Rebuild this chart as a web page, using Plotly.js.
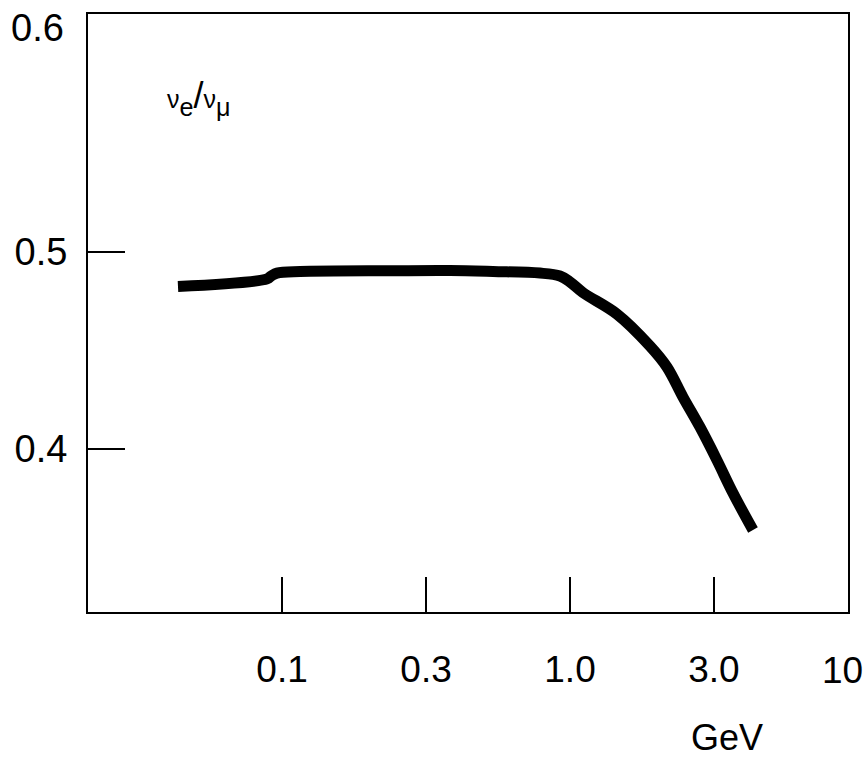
<!DOCTYPE html>
<html>
<head>
<meta charset="utf-8">
<script src="https://cdn.plot.ly/plotly-3.0.1.min.js"></script>
<style>html,body{margin:0;padding:0;background:#fff;}#chart{width:867px;height:757px;}</style>
</head>
<body>
<div id="chart"></div>
<script>
// Energy (GeV) and nu_e / nu_mu flux ratio
const energyGeV = [0.0435, 0.0887, 0.0920, 0.0960, 0.1155, 0.2427, 0.383, 0.540, 0.787, 0.923, 1.0, 1.109, 1.456, 1.895, 2.172, 2.468, 2.826, 3.238, 3.681, 4.32];
const ratio     = [0.4825, 0.4864, 0.4880, 0.4893, 0.4901, 0.4905, 0.4906, 0.4901, 0.4893, 0.4878, 0.4848, 0.4794, 0.4685, 0.4523, 0.4416, 0.4264, 0.4112, 0.3944, 0.3777, 0.3589];

const xTickVals = [0.1, 0.3162, 1, 3.162];
const xTickText = ['0.1', '0.3', '1.0', '3.0'];
const xEndLabel = '10';
const yTickVals = [0.4, 0.5];
const yTickText = ['0.4', '0.5'];
const yTopLabel = '0.6';

const font = 'Liberation Sans, Arial, sans-serif';

const trace = {
  x: energyGeV, y: ratio, type: 'scatter', mode: 'lines',
  line: {color: '#000', width: 11, shape: 'spline', smoothing: 1},
  hoverinfo: 'skip', showlegend: false
};

const layout = {
  width: 867, height: 757,
  margin: {l: 88, r: 19, t: 14, b: 145},
  paper_bgcolor: '#fff', plot_bgcolor: '#fff',
  font: {family: font, color: '#000', size: 38},
  xaxis: {
    type: 'log', range: [-1.674, 0.9655],
    tickmode: 'array', tickvals: xTickVals, ticktext: xTickText,
    ticks: 'inside', ticklen: 35, tickwidth: 1.5, tickcolor: '#000',
    showline: true, linecolor: '#000', linewidth: 2, mirror: true,
    showgrid: false, zeroline: false, ticklabelstandoff: 24,
    tickfont: {family: font, size: 37, color: '#000'}
  },
  yaxis: {
    range: [0.3173, 0.6208],
    tickmode: 'array', tickvals: yTickVals, ticktext: yTickText,
    ticks: 'inside', ticklen: 37, tickwidth: 1.5, tickcolor: '#000',
    showline: true, linecolor: '#000', linewidth: 2, mirror: true,
    showgrid: false, zeroline: false, ticklabelstandoff: 11,
    tickfont: {family: font, size: 38, color: '#000'}
  },
  annotations: [
    {text: yTopLabel, xref: 'paper', yref: 'paper', x: -0.066, y: 0.977, xanchor: 'center', yanchor: 'middle', showarrow: false, font: {family: font, size: 38, color: '#000'}},
    {text: xEndLabel, xref: 'paper', yref: 'paper', x: 0.9934, y: -0.097, xanchor: 'center', yanchor: 'middle', showarrow: false, font: {family: font, size: 37, color: '#000'}},
    {text: 'GeV', xref: 'paper', yref: 'paper', x: 0.8408, y: -0.21, xanchor: 'center', yanchor: 'middle', showarrow: false, font: {family: font, size: 36, color: '#000'}},
    {text: '<span style="font-size:25px">ν</span><sub>e</sub>/<span style="font-size:25px">ν</span><sub>μ</sub>', xref: 'paper', yref: 'paper', x: 0.101, y: 0.86, xanchor: 'left', yanchor: 'middle', showarrow: false, font: {family: font, size: 36, color: '#000'}}
  ]
};

Plotly.newPlot('chart', [trace], layout, {staticPlot: true, displayModeBar: false});
</script>
</body>
</html>
